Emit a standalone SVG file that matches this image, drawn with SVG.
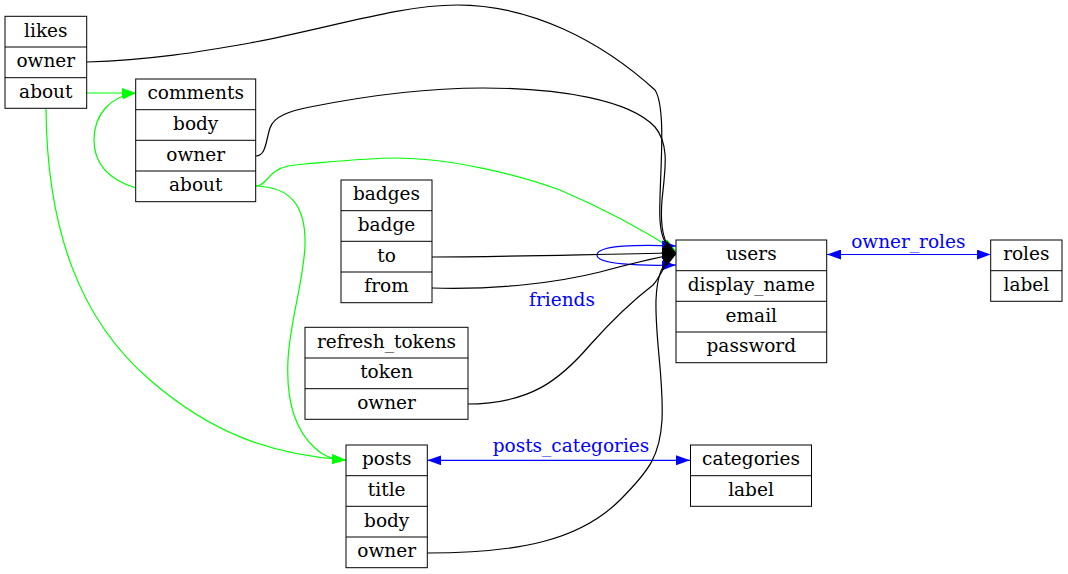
<svg xmlns="http://www.w3.org/2000/svg" width="1068" height="574" viewBox="0 0 1068 574">
<style>
.box{fill:#fff;stroke:#000;stroke-width:1}
.ln{fill:none;stroke:#000;stroke-width:1}
.t{font-family:"DejaVu Serif",serif;font-size:18.5px;fill:#000;text-anchor:middle}
.lb{font-family:"DejaVu Serif",serif;font-size:18.5px;fill:#0000ff;text-anchor:middle}
.e{fill:none;stroke-width:1.2}
.k{stroke:#000}
.g{stroke:#00ff00}
.b{stroke:#0000ff}
</style>
<defs>
<marker id="ak" viewBox="0 0 14 10" refX="14" refY="5" markerUnits="userSpaceOnUse" markerWidth="14" markerHeight="10" orient="auto"><path d="M0,0 L14,5 L0,10 z" fill="#000"/></marker>
<marker id="ag" viewBox="0 0 14 10" refX="14" refY="5" markerUnits="userSpaceOnUse" markerWidth="14" markerHeight="10" orient="auto"><path d="M0,0 L14,5 L0,10 z" fill="#00ff00"/></marker>
<marker id="ab" viewBox="0 0 14 10" refX="14" refY="5" markerUnits="userSpaceOnUse" markerWidth="14" markerHeight="10" orient="auto-start-reverse"><path d="M0,0 L14,5 L0,10 z" fill="#0000ff"/></marker>
</defs>
<rect width="1068" height="574" fill="#fff"/>

<g id="connectors">
<!-- green edges -->
<path class="e g" d="M87,93 L136,93" marker-end="url(#ag)"/>
<path class="e g" d="M136,188 C110,180 94,165 94,140 C94,115 110,96 136,93" marker-end="url(#ag)"/>
<path class="e g" d="M256,186 C264,186 268,176 276,171 C283,166 292,165 305,164 C340,161 370,158 395,158 C450,158 520,175 560,190 C600,207 640,228 676,251" marker-end="url(#ag)"/>
<path class="e g" d="M256,186 C290,187 306,205 305,245 C304,280 290,320 288,360 C286,400 295,430 315,448 C322,455 330,459 346,460" marker-end="url(#ag)"/>
<path class="e g" d="M46,109 C47,230 80,320 150,380 C210,432 270,455 346,460" marker-end="url(#ag)"/>
<!-- blue edges -->
<path class="e b" d="M827,254.5 L990.7,254.5" marker-start="url(#ab)" marker-end="url(#ab)"/>
<path class="e b" d="M427.3,460.3 L690,460.3" marker-start="url(#ab)" marker-end="url(#ab)"/>
<path class="e b" d="M676,246 C640,244.5 597,245 597,255 C597,264.5 640,266 676,265" marker-start="url(#ab)" marker-end="url(#ab)"/>
<!-- black edges -->
<path class="e k" d="M87,62 C150,60 200,52 250,43 C330,28 400,5 457,5 C530,5 600,40 655,90 C668,110 658,190 660,220 C661,236 664,245 676,253" marker-end="url(#ak)"/>
<path class="e k" d="M256,156 C266,156 266,140 270,128 C274,116 290,111 310,107 C370,95 430,88 483,88 C560,88 630,100 655,127 C670,145 665,170 662,200 C660,225 662,246 676,253" marker-end="url(#ak)"/>
<path class="e k" d="M432,257 C500,257 600,254 676,253" marker-end="url(#ak)"/>
<path class="e k" d="M432,288 C500,290 560,282 600,272 C630,264 655,258 676,254" marker-end="url(#ak)"/>
<path class="e k" d="M467,404 C530,404 560,380 590,345 C615,317 640,295 653,285 C662,275 664,262 676,254" marker-end="url(#ak)"/>
<path class="e k" d="M427,553 C520,553 580,540 620,500 C650,470 660,455 662,420 C664,380 655,340 656,300 C657,275 662,262 676,254" marker-end="url(#ak)"/>
<!-- labels -->
<text class="lb" x="908.3" y="248">owner_roles</text>
<text class="lb" x="571" y="452">posts_categories</text>
<text class="lb" x="562" y="306">friends</text>
</g>

<g id="likes">
<rect class="box" x="5" y="16.3" width="81.7" height="92"/>
<path class="ln" d="M5,47 H86.7 M5,77.7 H86.7"/>
<text class="t" x="45.8" y="36.6">likes</text>
<text class="t" x="45.8" y="67.3">owner</text>
<text class="t" x="45.8" y="98">about</text>
</g>

<g id="comments">
<rect class="box" x="135.7" y="79" width="120" height="122.7"/>
<path class="ln" d="M135.7,109.7 H255.7 M135.7,140.3 H255.7 M135.7,171 H255.7"/>
<text class="t" x="195.7" y="99.3">comments</text>
<text class="t" x="195.7" y="130">body</text>
<text class="t" x="195.7" y="160.7">owner</text>
<text class="t" x="195.7" y="191.3">about</text>
</g>

<g id="badges">
<rect class="box" x="341" y="180" width="91" height="122.7"/>
<path class="ln" d="M341,210.7 H432 M341,241.3 H432 M341,272 H432"/>
<text class="t" x="386.5" y="200.3">badges</text>
<text class="t" x="386.5" y="231">badge</text>
<text class="t" x="386.5" y="261.7">to</text>
<text class="t" x="386.5" y="292.3">from</text>
</g>

<g id="refresh_tokens">
<rect class="box" x="305" y="327.3" width="163" height="92"/>
<path class="ln" d="M305,358 H468 M305,388.7 H468"/>
<text class="t" x="386.5" y="347.6">refresh_tokens</text>
<text class="t" x="386.5" y="378.3">token</text>
<text class="t" x="386.5" y="409">owner</text>
</g>

<g id="posts">
<rect class="box" x="346" y="445" width="81.3" height="122.7"/>
<path class="ln" d="M346,475.7 H427.3 M346,506.3 H427.3 M346,537 H427.3"/>
<text class="t" x="386.7" y="465.3">posts</text>
<text class="t" x="386.7" y="496">title</text>
<text class="t" x="386.7" y="526.7">body</text>
<text class="t" x="386.7" y="557.3">owner</text>
</g>

<g id="users">
<rect class="box" x="676" y="240" width="150.7" height="122.7"/>
<path class="ln" d="M676,270.7 H826.7 M676,301.3 H826.7 M676,332 H826.7"/>
<text class="t" x="751.3" y="260.3">users</text>
<text class="t" x="751.3" y="291">display_name</text>
<text class="t" x="751.3" y="321.7">email</text>
<text class="t" x="751.3" y="352.3">password</text>
</g>

<g id="roles">
<rect class="box" x="990.7" y="240" width="71.3" height="61.3"/>
<path class="ln" d="M990.7,270.7 H1062"/>
<text class="t" x="1026.3" y="260.3">roles</text>
<text class="t" x="1026.3" y="291">label</text>
</g>

<g id="categories">
<rect class="box" x="690.5" y="445" width="121" height="61.3"/>
<path class="ln" d="M690.5,475.7 H811.5"/>
<text class="t" x="751" y="465.3">categories</text>
<text class="t" x="751" y="496">label</text>
</g>
</svg>
